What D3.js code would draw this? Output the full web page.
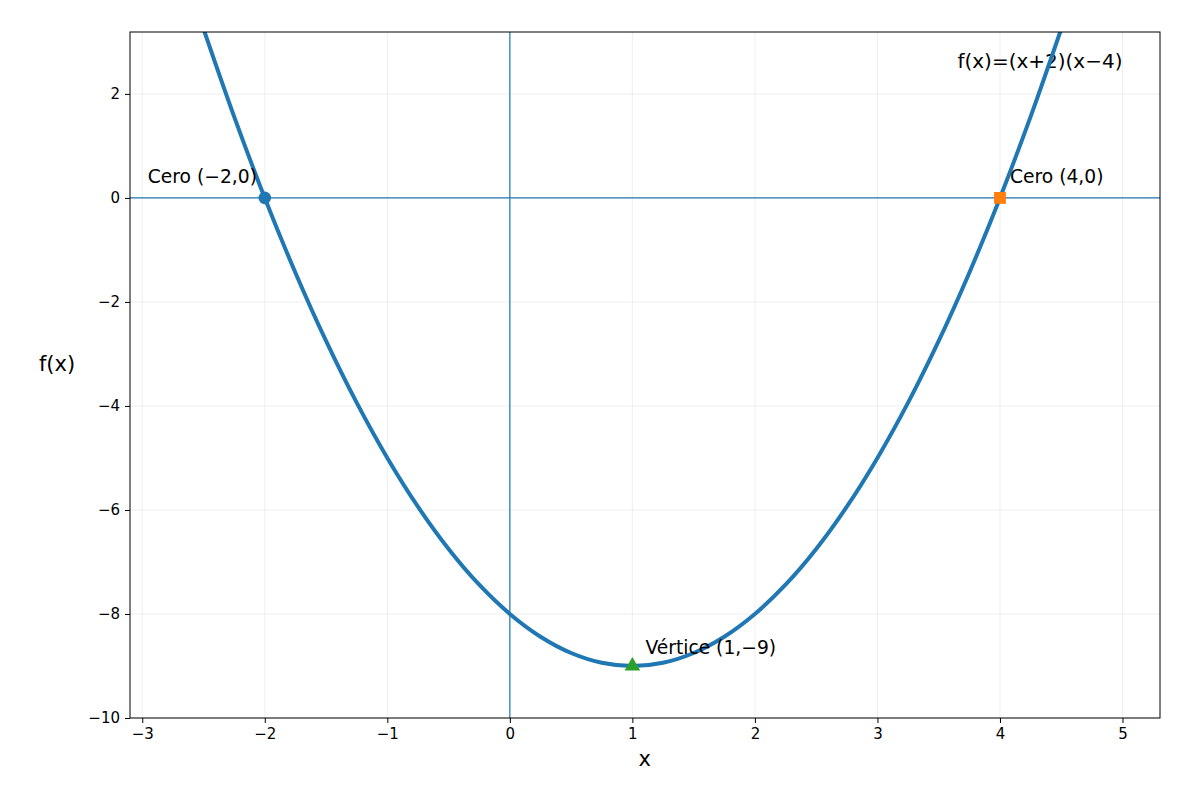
<!DOCTYPE html>
<html>
<head>
<meta charset="utf-8">
<script src="https://cdn.jsdelivr.net/npm/d3@7"></script>
<style>
  body { margin: 0; background: #fff; }
  svg { font-family: "DejaVu Sans", sans-serif; }
</style>
</head>
<body>
<script>
// values
var xs = [-2.5, -2.25, -2, -1.75, -1.5, -1.25, -1, -0.75, -0.5, -0.25, 0, 0.25, 0.5, 0.75, 1,
          1.25, 1.5, 1.75, 2, 2.25, 2.5, 2.75, 3, 3.25, 3.5, 3.75, 4, 4.25, 4.5],
    ys = [3.25, 1.5625, 0, -1.4375, -2.75, -3.9375, -5, -5.9375, -6.75, -7.4375, -8, -8.4375, -8.75, -8.9375, -9,
          -8.9375, -8.75, -8.4375, -8, -7.4375, -6.75, -5.9375, -5, -3.9375, -2.75, -1.4375, 0, 1.5625, 3.25],
    xTicks = [-3, -2, -1, 0, 1, 2, 3, 4, 5],
    yTicks = [-10, -8, -6, -4, -2, 0, 2],
    points = [
      {x: -2, y: 0, label: "Cero (\u22122,0)", shape: "circle", color: "#1f77b4"},
      {x: 4, y: 0, label: "Cero (4,0)", shape: "square", color: "#ff7f0e"},
      {x: 1, y: -9, label: "V\u00e9rtice (1,\u22129)", shape: "triangle", color: "#2ca02c"}
    ],
    title = "f(x)=(x+2)(x\u22124)";

var margin = {top: 32, right: 40, bottom: 82, left: 130},
    W = 1200, H = 800,
    width = W - margin.left - margin.right,
    height = H - margin.top - margin.bottom;

var svg = d3.select("body").append("svg").attr("width", W).attr("height", H),
    g = svg.append("g").attr("transform", "translate(" + margin.left + "," + margin.top + ")");

var x = d3.scaleLinear().domain([-3.1, 5.306]).range([0, width]);
var y = d3.scaleLinear().domain([-10, 3.19]).range([height, 0]);

var fmt = d3.format("d");
var minus = d => fmt(d).replace("-", "\u2212");

g.append("defs").append("clipPath").attr("id", "clip")
  .append("rect").attr("width", width).attr("height", height);

// grid
g.append("g").selectAll("line").data(xTicks).join("line")
    .attr("x1", d => x(d)).attr("x2", d => x(d)).attr("y1", 0).attr("y2", height)
    .attr("stroke", "#b0b0b0").attr("stroke-opacity", 0.25).attr("stroke-width", 0.8);
g.append("g").selectAll("line").data(yTicks).join("line")
    .attr("y1", d => y(d)).attr("y2", d => y(d)).attr("x1", 0).attr("x2", width)
    .attr("stroke", "#b0b0b0").attr("stroke-opacity", 0.25).attr("stroke-width", 0.8);

// zero lines
g.append("line").attr("x1", 0).attr("x2", width).attr("y1", y(0)).attr("y2", y(0))
    .attr("stroke", "#1f77b4").attr("stroke-width", 1.2);
g.append("line").attr("x1", x(0)).attr("x2", x(0)).attr("y1", 0).attr("y2", height)
    .attr("stroke", "#1f77b4").attr("stroke-width", 1.2);

// formula text
g.append("text").attr("x", x(5.0)).attr("y", y(2.5)).attr("text-anchor", "end")
    .attr("font-size", 20).text(title);

var line = d3.line().x((d, i) => x(xs[i])).y(d => y(d)).curve(d3.curveCatmullRom);
g.append("path").datum(ys).attr("clip-path", "url(#clip)")
    .attr("d", line).attr("fill", "none").attr("stroke", "#1f77b4").attr("stroke-width", 4);

// markers
var sym = {circle: d3.symbolCircle, square: d3.symbolSquare, triangle: d3.symbolTriangle};
var size = {circle: 125, square: 140, triangle: 105};
g.selectAll(".pt").data(points).join("path")
    .attr("transform", d => "translate(" + x(d.x) + "," + y(d.y) + ")")
    .attr("d", d => d3.symbol().type(sym[d.shape]).size(size[d.shape])())
    .attr("fill", d => d.color);

// labels
var off = [[-117, -15], [10, -15], [13, -12]];
g.selectAll(".lbl").data(points).join("text")
    .attr("x", (d, i) => x(d.x) + off[i][0]).attr("y", (d, i) => y(d.y) + off[i][1])
    .attr("font-size", 18.7).text(d => d.label);

// axes
var xa = g.append("g").attr("transform", "translate(0," + height + ")")
    .call(d3.axisBottom(x).tickValues(xTicks).tickFormat(minus).tickSizeOuter(0).tickSize(5).tickPadding(5));
var ya = g.append("g")
    .call(d3.axisLeft(y).tickValues(yTicks).tickFormat(minus).tickSizeOuter(0).tickSize(5).tickPadding(5));
[xa, ya].forEach(a => {
  a.select(".domain").remove();
  a.selectAll("text").attr("font-size", 15).attr("fill", "#000").attr("font-family", "DejaVu Sans");
  a.selectAll("line").attr("stroke", "#000").attr("stroke-width", 1);
});

g.append("rect").attr("width", width).attr("height", height)
    .attr("fill", "none").attr("stroke", "#000").attr("stroke-width", 1);

svg.append("text").attr("x", margin.left + x(1.1)).attr("y", 766).attr("text-anchor", "middle")
    .attr("font-size", 21).text("x");
svg.append("text").attr("x", 57).attr("y", 371).attr("text-anchor", "middle")
    .attr("font-size", 21).text("f(x)");
</script>
</body>
</html>
